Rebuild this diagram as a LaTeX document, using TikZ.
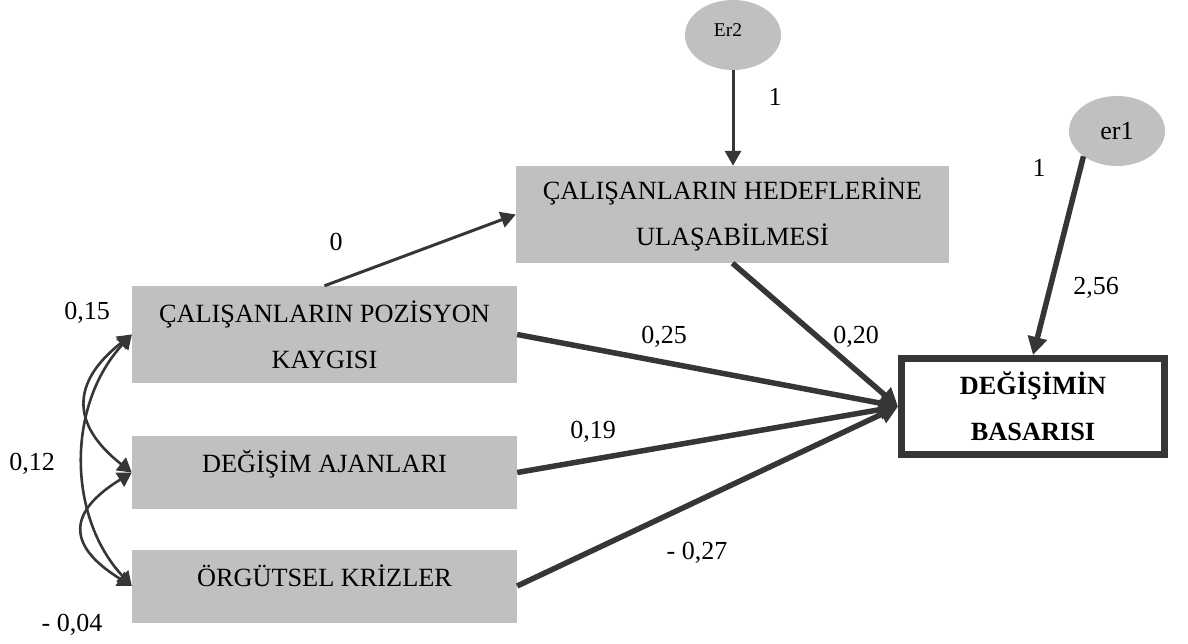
\documentclass[tikz,border=0pt]{standalone}
\usepackage{fontspec}
\setmainfont{Liberation Serif}
\usetikzlibrary{arrows.meta,shapes.geometric}
\definecolor{edge}{RGB}{54,54,54}
\definecolor{boxgray}{RGB}{192,192,192}
\begin{document}
\begin{tikzpicture}[x=1pt,y=1pt,
  lbl/.style={font=\fontsize{26}{30}\selectfont, inner sep=0pt},
  var/.style={rectangle, fill=boxgray, minimum width=385pt, inner sep=0pt,
              font=\fontsize{26.3}{46}\selectfont, align=center},
  twoline/.style={minimum height=97pt},
  oneline/.style={text height=36.5pt, text depth=36.5pt},
  err/.style={ellipse, fill=boxgray, minimum width=96pt, minimum height=70pt, inner sep=0pt},
  arrthin/.style={draw=edge, line width=3pt, -{Triangle[length=15pt,width=16pt]}},
  arrthick/.style={draw=edge, line width=5.5pt, -{Triangle[length=18pt,width=19pt]}},
  covar/.style={draw=edge, line width=2.6pt,
                {Triangle[length=14pt,width=16pt]}-{Triangle[length=14pt,width=16pt]}},
]
\useasboundingbox (0,0) rectangle (1188,643);

% observed variables
\node[var, twoline] (poz) at (324.5,308.5) {ÇALIŞANLARIN POZİSYON\\KAYGISI};
\node[var, oneline] (ajan) at (324.5,170.5) {DEĞİŞİM AJANLARI};
\node[var, oneline] (kriz) at (324.5,57) {ÖRGÜTSEL KRİZLER};
\node[var, twoline, minimum width=433pt] (hedef) at (732.5,428.5) {ÇALIŞANLARIN HEDEFLERİNE\\ULAŞABİLMESİ};
\node[rectangle, draw=edge, line width=7pt, minimum width=263pt, minimum height=96pt,
      fill=white, inner sep=0pt, font=\bfseries\fontsize{26.3}{46}\selectfont, align=center]
      (deg) at (1033,236.5) {DEĞİŞİMİN\\BASARISI};

% error terms
\node[err] (er2) at (733,608) {};
\node[font=\fontsize{19.5}{22}\selectfont, inner sep=0pt] (er2-t) at (728,613) {Er2};
\node[err, font=\fontsize{26}{30}\selectfont] (er1) at (1117,512) {er1};

% paths
\draw[arrthin] (er2.south) -- (er2.south |- hedef.north);
\draw[arrthin] (poz.north) -- (hedef.west);
\draw[arrthick] (er1.217) -- (deg.north);
\draw[arrthick] (poz.east) -- (deg.west);
\draw[arrthick] (ajan.east) -- (deg.west);
\draw[arrthick] (kriz.east) -- (deg.west);
\draw[arrthick] (hedef.south) -- (deg.west);

% covariances
\draw[covar] (poz.west) .. controls +(-61,-48) and +(-61,48) .. (ajan.west);
\draw[covar] (poz.west) .. controls +(-65,-70) and +(-65,70) .. (kriz.west);
\draw[covar] (ajan.west) .. controls +(-65,-40) and +(-65,40) .. (kriz.west);

% coefficients
\node[lbl] (c-poz-ajan) at (87,330) {0,15};
\node[lbl] (c-poz-kriz) at (32,179) {0,12};
\node[lbl] (c-ajan-kriz) at (72,18) {- 0,04};
\node[lbl] (c-poz-hedef) at (336,401) {0};
\node[lbl] (c-er2) at (775,546) {1};
\node[lbl] (c-er1) at (1039,475) {1};
\node[lbl] (c-er1-deg) at (1096,355) {2,56};
\node[lbl] (c-poz-deg) at (664,306) {0,25};
\node[lbl] (c-hedef-deg) at (856,306) {0,20};
\node[lbl] (c-ajan-deg) at (593,211) {0,19};
\node[lbl] (c-kriz-deg) at (697,90) {- 0,27};
\end{tikzpicture}
\end{document}
